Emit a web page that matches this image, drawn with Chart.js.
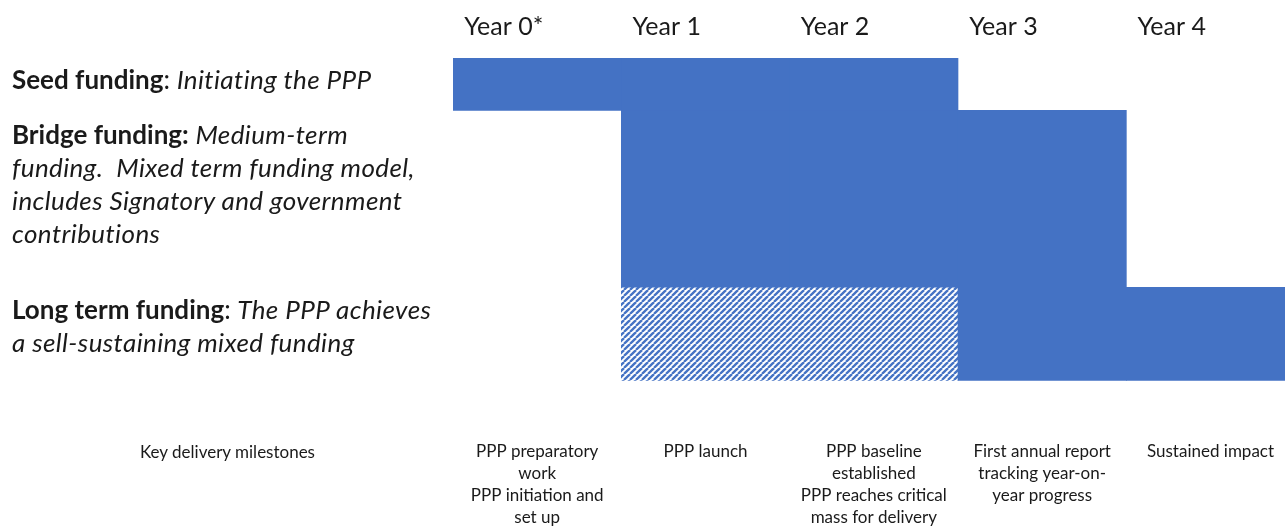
<!DOCTYPE html>
<html>
<head>
<meta charset="utf-8">
<script src="https://cdn.jsdelivr.net/npm/chart.js@4.4.0/dist/chart.umd.min.js"></script>
<style>
  html, body { margin: 0; padding: 0; background: #fff; overflow: hidden; }
  #wrap { position: relative; width: 1285px; height: 526px; overflow: hidden; }
  canvas { position: absolute; left: 0; top: -10px; }
  .row-label {
    position: absolute; left: 12px; font-family: Lato, sans-serif;
    font-size: 26px; line-height: 33px; color: #1a1a1a; white-space: nowrap;
  }
  .row-label b { font-weight: 700; }
  .row-label i { font-style: italic; letter-spacing: 0.4px; }
  #milestone-title {
    position: absolute; left: 140px; top: 442px; font-family: Lato, sans-serif;
    font-size: 17px; line-height: 19px; color: #1a1a1a;
  }
</style>
</head>
<body>
<div id="wrap">
  <canvas id="chart" width="1295" height="551"></canvas>
  <div class="row-label" style="top:63px"><b>Seed funding</b>: <i>Initiating the PPP</i></div>
  <div class="row-label" style="top:118px"><b>Bridge funding:</b> <i>Medium-term<br>funding.&nbsp; Mixed term funding model,<br>includes Signatory and government<br>contributions</i></div>
  <div class="row-label" style="top:293px"><b>Long term funding</b>: <i>The PPP achieves<br>a sell-sustaining mixed funding</i></div>
  <div id="milestone-title">Key delivery milestones</div>
</div>
<script>
// columns
const years = ["Year 0*", "Year 1", "Year 2", "Year 3", "Year 4"];
const milestones = [
  ["PPP preparatory", "work", "PPP initiation and", "set up"],
  ["PPP launch"],
  ["PPP baseline", "established", "PPP reaches critical", "mass for delivery"],
  ["First annual report", "tracking year-on-", "year progress"],
  ["Sustained impact"]
];

// vertical band of each funding row (top, bottom)
const seedBand = [0, 1.6];
const bridgeBand = [1.6, 7.0];
const longTermBand = [7.0, 9.85];
const yMax = 11.44; // leaves room above the milestone row

// 1 = funded in that year, 2 = partly (hatched), 0 = none
const seedFunding = [1, 1, 1, 0, 0];
const bridgeFunding = [0, 1, 1, 1, 0];
const longTermFunding = [0, 2, 2, 1, 1];

const blue = "#4472C4";

function hatch() {
  const s = 6;
  const c = document.createElement("canvas");
  c.width = s; c.height = s;
  const g = c.getContext("2d");
  g.fillStyle = "#fff";
  g.fillRect(0, 0, s, s);
  g.strokeStyle = blue;
  g.lineWidth = 2.3;
  for (let k = -1; k <= 1; k++) {
    g.beginPath();
    g.moveTo(k * s, s);
    g.lineTo(k * s + s, 0);
    g.stroke();
  }
  return g.createPattern(c, "repeat");
}

const band = (flags, value, span) => flags.map(f => (f === value ? span : null));

const common = {
  grouped: false,
  barPercentage: 1,
  categoryPercentage: 1,
  borderWidth: 0,
  borderSkipped: false
};

const ctx = document.getElementById("chart").getContext("2d");
new Chart(ctx, {
  type: "bar",
  data: {
    labels: years,
    datasets: [
      { label: "Seed funding", data: band(seedFunding, 1, seedBand), backgroundColor: blue, ...common },
      { label: "Bridge funding", data: band(bridgeFunding, 1, bridgeBand), backgroundColor: blue, ...common },
      { label: "Long term funding", data: band(longTermFunding, 1, longTermBand), backgroundColor: blue, ...common },
      { label: "Long term funding (partial)", data: band(longTermFunding, 2, longTermBand), backgroundColor: hatch(), ...common }
    ]
  },
  options: {
    responsive: false,
    animation: false,
    devicePixelRatio: 1,
    events: [],
    layout: { padding: { left: 453, right: 0, top: 6, bottom: 4 } },
    plugins: { legend: { display: false }, tooltip: { enabled: false } },
    scales: {
      x: {
        position: "bottom",
        labels: milestones,
        offset: true,
        grid: { display: false, drawTicks: false },
        border: { display: false },
        ticks: {
          autoSkip: false, maxRotation: 0, padding: 8,
          color: "#1a1a1a",
          font: { family: "Lato", size: 17, lineHeight: 1.3 }
        }
      },
      xTop: {
        type: "category",
        position: "top",
        labels: years,
        offset: true,
        grid: { display: false, drawTicks: false },
        border: { display: false },
        ticks: {
          autoSkip: false, maxRotation: 0, padding: 16,
          align: "start", labelOffset: -73,
          color: "#1a1a1a",
          font: { family: "Lato", size: 25, lineHeight: 1.2 }
        }
      },
      y: {
        display: false,
        reverse: true,
        min: seedBand[0],
        max: yMax
      }
    }
  }
});
</script>
</body>
</html>
